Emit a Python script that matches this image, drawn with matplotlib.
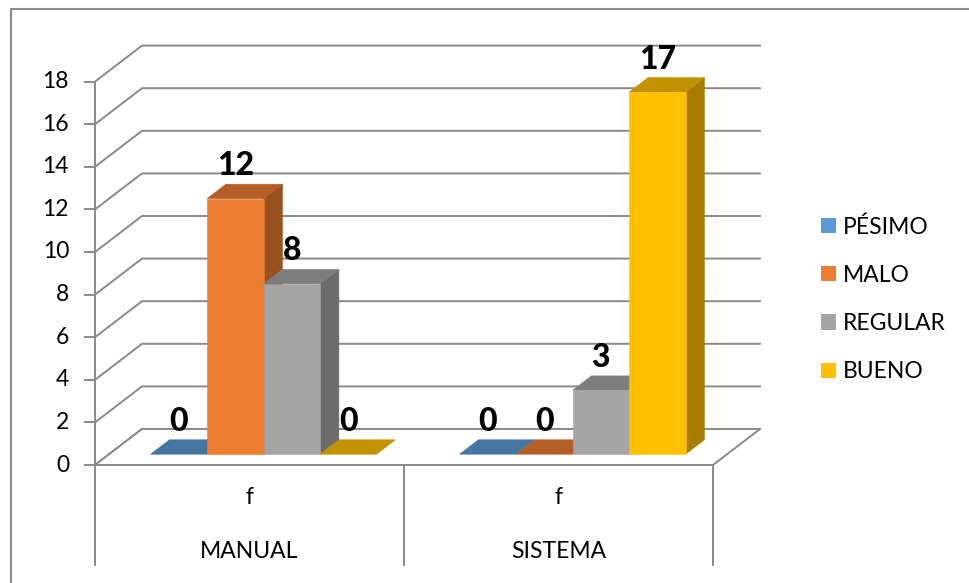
import numpy as np
import matplotlib.pyplot as plt
from matplotlib.patches import Polygon, Patch
from matplotlib.colors import to_rgb

plt.rcParams['font.family'] = ['Lato', 'DejaVu Sans']

# datos
categorias = ['MANUAL', 'SISTEMA']
subetiqueta = 'f'
series = ['PÉSIMO', 'MALO', 'REGULAR', 'BUENO']
pesimo = [0, 0]
malo = [12, 0]
regular = [8, 3]
bueno = [0, 17]
colores = ['#5B9BD5', '#ED7D31', '#A5A5A5', '#FFC000']
yticks = list(range(0, 19, 2))

# disposicion (pixeles)
W, H = 969, 583
X0, Y0 = 95, 465          # esquina frontal izquierda del piso
UX, UY = 309, 21.3        # pixeles por categoria / por unidad
DX, DY = 47 / UX, 36 / UY  # profundidad del piso
Z0, Z1 = 0.3, 0.7          # profundidad de las barras
BW = 56.5 / UX
GRIS = '#898989'
FS = 16.5


def proj(x, y, z):
    return x + z * DX, y + z * DY


def darken(c, f):
    r, g, b = to_rgb(c)
    return (r * f, g * f, b * f)


fig = plt.figure(figsize=(W / 100, H / 100), dpi=100)
ax = fig.add_axes([0, 0, 1, 1])
ax.set_xlim(-X0 / UX, (W - X0) / UX)
ax.set_ylim(-(H - Y0) / UY, Y0 / UY)
ax.axis('off')

ncat = len(categorias)

# lineas de cuadricula (pared lateral y fondo)
for t in yticks:
    pts = [proj(0, t, 0), proj(0, t, 1), proj(ncat, t, 1)]
    ax.plot([p[0] for p in pts], [p[1] for p in pts], color=GRIS, lw=1.4, zorder=1)

# piso
piso = [proj(0, 0, 0), proj(ncat, 0, 0), proj(ncat, 0, 1), proj(0, 0, 1)]
ax.add_patch(Polygon(piso, closed=True, facecolor='white', edgecolor=GRIS, lw=1.4, zorder=2))

# eje vertical y marcas
ax.plot([0, 0], [0, yticks[-1]], color=GRIS, lw=1.4, zorder=3)
for t in yticks:
    ax.plot([-10 / UX, 0], [t, t], color=GRIS, lw=1.4, zorder=3)
    ax.text(-26 / UX, t, str(t), ha='right', va='center', fontsize=FS, color='black')

# tabla de categorias
for i in range(ncat + 1):
    ax.plot([i, i], [0, -100 / UY], color=GRIS, lw=1.4, zorder=3)
for i, cat in enumerate(categorias):
    ax.text(i + 0.5, -33 / UY, subetiqueta, ha='center', va='center', fontsize=FS)
    ax.text(i + 0.5, -86 / UY, cat, ha='center', va='center', fontsize=FS)

# barras 3D
valores = [pesimo, malo, regular, bueno]
inicio = (1 - len(series) * BW) / 2
for i in range(ncat):
    for j, (vals, c) in enumerate(zip(valores, colores)):
        v = vals[i]
        xl = i + inicio + j * BW
        xr = xl + BW
        lado = [proj(xr, 0, Z0), proj(xr, 0, Z1), proj(xr, v, Z1), proj(xr, v, Z0)]
        tapa = [proj(xl, v, Z0), proj(xr, v, Z0), proj(xr, v, Z1), proj(xl, v, Z1)]
        frente = [proj(xl, 0, Z0), proj(xr, 0, Z0), proj(xr, v, Z0), proj(xl, v, Z0)]
        zb = 4 + j
        if v > 0:
            ax.add_patch(Polygon(lado, closed=True, facecolor=darken(c, 0.65),
                                 edgecolor=darken(c, 0.65), lw=0.4, zorder=zb))
        ax.add_patch(Polygon(tapa, closed=True, facecolor=darken(c, 0.76),
                             edgecolor=darken(c, 0.76), lw=0.4, zorder=zb))
        if v > 0:
            ax.add_patch(Polygon(frente, closed=True, facecolor=c,
                                 edgecolor=c, lw=0.4, zorder=zb))
        xc, yc = proj((xl + xr) / 2, v, Z0)
        ax.annotate(str(v), (xc, yc), xytext=(0, 33), textcoords='offset pixels',
                    ha='center', va='center', fontsize=23, fontweight='black', zorder=10)

# borde del grafico
ax.plot([11 / W, 11 / W, 1], [0, 1 - 9 / H, 1 - 9 / H], color='#8c8c8c', lw=1.5,
        transform=ax.transAxes, clip_on=False)

# leyenda
handles = [Patch(facecolor=c, edgecolor='none') for c in colores]
fig.legend(handles, series, loc='upper left', bbox_to_anchor=(821 / W, 1 - 216 / H),
           frameon=False, fontsize=FS, handlelength=0.65, handleheight=0.65,
           handletextpad=0.3, labelspacing=1.19, borderpad=0, borderaxespad=0)

fig.savefig('out.png', dpi=100, facecolor='white')
